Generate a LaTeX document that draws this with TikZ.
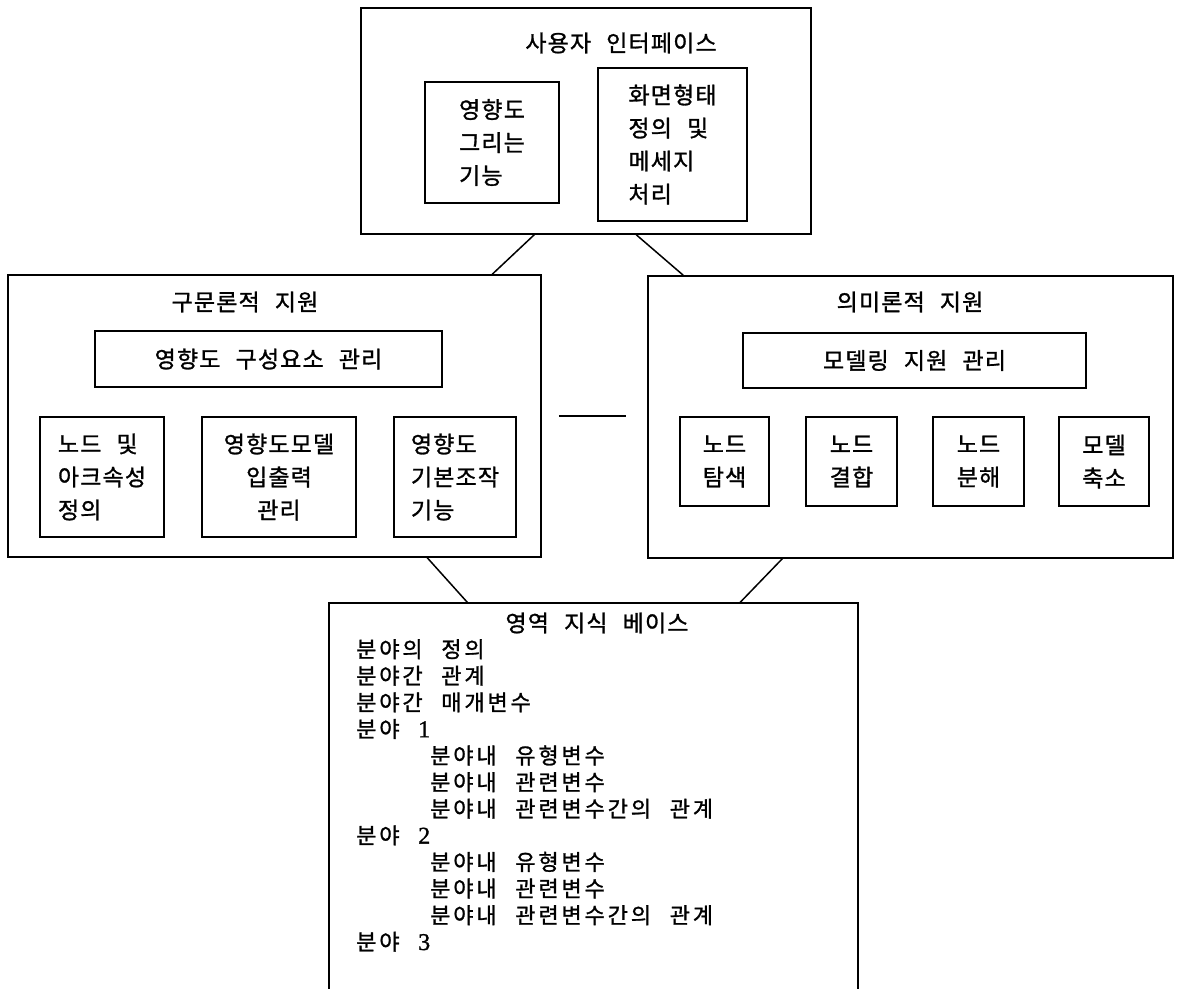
\documentclass[tikz,border=0pt]{standalone}
\usepackage{fontspec}
\setmainfont{Noto Sans CJK KR}[LetterSpace=5,WordSpace=2.4,FakeBold=1.2]
\newfontfamily\kbfont{Noto Sans CJK KR}[LetterSpace=13,WordSpace=2.4,FakeBold=1.2]
\newfontfamily\digfont{Liberation Serif}[FakeBold=1.2]
\begin{document}
\begin{tikzpicture}[x=1pt,y=-1pt,
  box/.style={draw, line width=1.5pt, inner sep=0pt},
  lbl/.style={font=\fontsize{23}{26}\selectfont, inner sep=0pt},
  ml/.style={font=\fontsize{23}{33}\selectfont},
  conn/.style={line width=1.5pt}]
\clip (0,0) rectangle (1180,988);
\useasboundingbox (0,0) rectangle (1180,988);

% user interface
\node[box, minimum width=450pt, minimum height=226pt] (ui) at (586,121) {};
\node[lbl] (uit) at (621,43) {사용자 인터페이스};
\node[box, ml, align=left, minimum width=134pt, minimum height=121pt] (d1) at (492,142.5) {영향도\\그리는\\기능};
\node[box, ml, align=left, minimum width=149pt, minimum height=153pt] (d2) at (672.5,144.5) {화면형태\\정의 및\\메세지\\처리};

% syntactic support
\node[box, minimum width=533pt, minimum height=282pt] (lbox) at (274.5,416) {};
\node[lbl] (lt) at (245,302) {구문론적 지원};
\node[box, lbl, minimum width=347pt, minimum height=56pt] (lmgr) at (268.5,359) {영향도 구성요소 관리};
\node[box, ml, align=left, minimum width=124pt, minimum height=120pt] (l1) at (102,477) {노드 및\\아크속성\\정의};
\node[box, ml, align=center, minimum width=154pt, minimum height=120pt] (l2) at (279,477) {영향도모델\\입출력\\관리};
\node[box, ml, align=left, minimum width=122pt, minimum height=120pt] (l3) at (455,477) {영향도\\기본조작\\기능};

% semantic support
\node[box, minimum width=525pt, minimum height=282pt] (rbox) at (910.5,417) {};
\node[lbl] (rt) at (910,302) {의미론적 지원};
\node[box, lbl, minimum width=343pt, minimum height=55pt] (rmgr) at (914.5,360.5) {모델링 지원 관리};
\node[box, ml, align=center, minimum width=89pt, minimum height=89pt] (r1) at (724.5,461.5) {노드\\탐색};
\node[box, ml, align=center, minimum width=91pt, minimum height=89pt] (r2) at (851.5,461.5) {노드\\결합};
\node[box, ml, align=center, minimum width=91pt, minimum height=89pt] (r3) at (978.5,461.5) {노드\\분해};
\node[box, ml, align=center, minimum width=90pt, minimum height=89pt] (r4) at (1104,461.5) {모델\\축소};

% domain knowledge base
\node[box, minimum width=529pt, minimum height=420pt] (kb) at (593.5,813) {};
\node[lbl] (kbt) at (597,623) {영역 지식 베이스};
\node[lbl, align=left, anchor=north west, font=\kbfont\fontsize{22}{26.6}\selectfont] (kbtext) at (356,639) {%
분야의 정의\\
분야간 관계\\
분야간 매개변수\\
분야 {\digfont\fontsize{24}{26.6}\selectfont 1}\\
\hspace*{74pt}분야내 유형변수\\
\hspace*{74pt}분야내 관련변수\\
\hspace*{74pt}분야내 관련변수간의 관계\\
분야 {\digfont\fontsize{24}{26.6}\selectfont 2}\\
\hspace*{74pt}분야내 유형변수\\
\hspace*{74pt}분야내 관련변수\\
\hspace*{74pt}분야내 관련변수간의 관계\\
분야 {\digfont\fontsize{24}{26.6}\selectfont 3}};

% connectors
\draw[conn] ([xshift=174pt]ui.south west) -- ([xshift=485pt]lbox.north west);
\draw[conn] ([xshift=276pt]ui.south west) -- ([xshift=36pt]rbox.north west);
\draw[conn] ([xshift=17pt]lbox.east) -- ([xshift=-21pt]rbox.west |- lbox.east);
\draw[conn] ([xshift=420pt]lbox.south west) -- ([xshift=139pt]kb.north west);
\draw[conn] ([xshift=135pt]rbox.south west) -- ([xshift=412pt]kb.north west);
\end{tikzpicture}
\end{document}
